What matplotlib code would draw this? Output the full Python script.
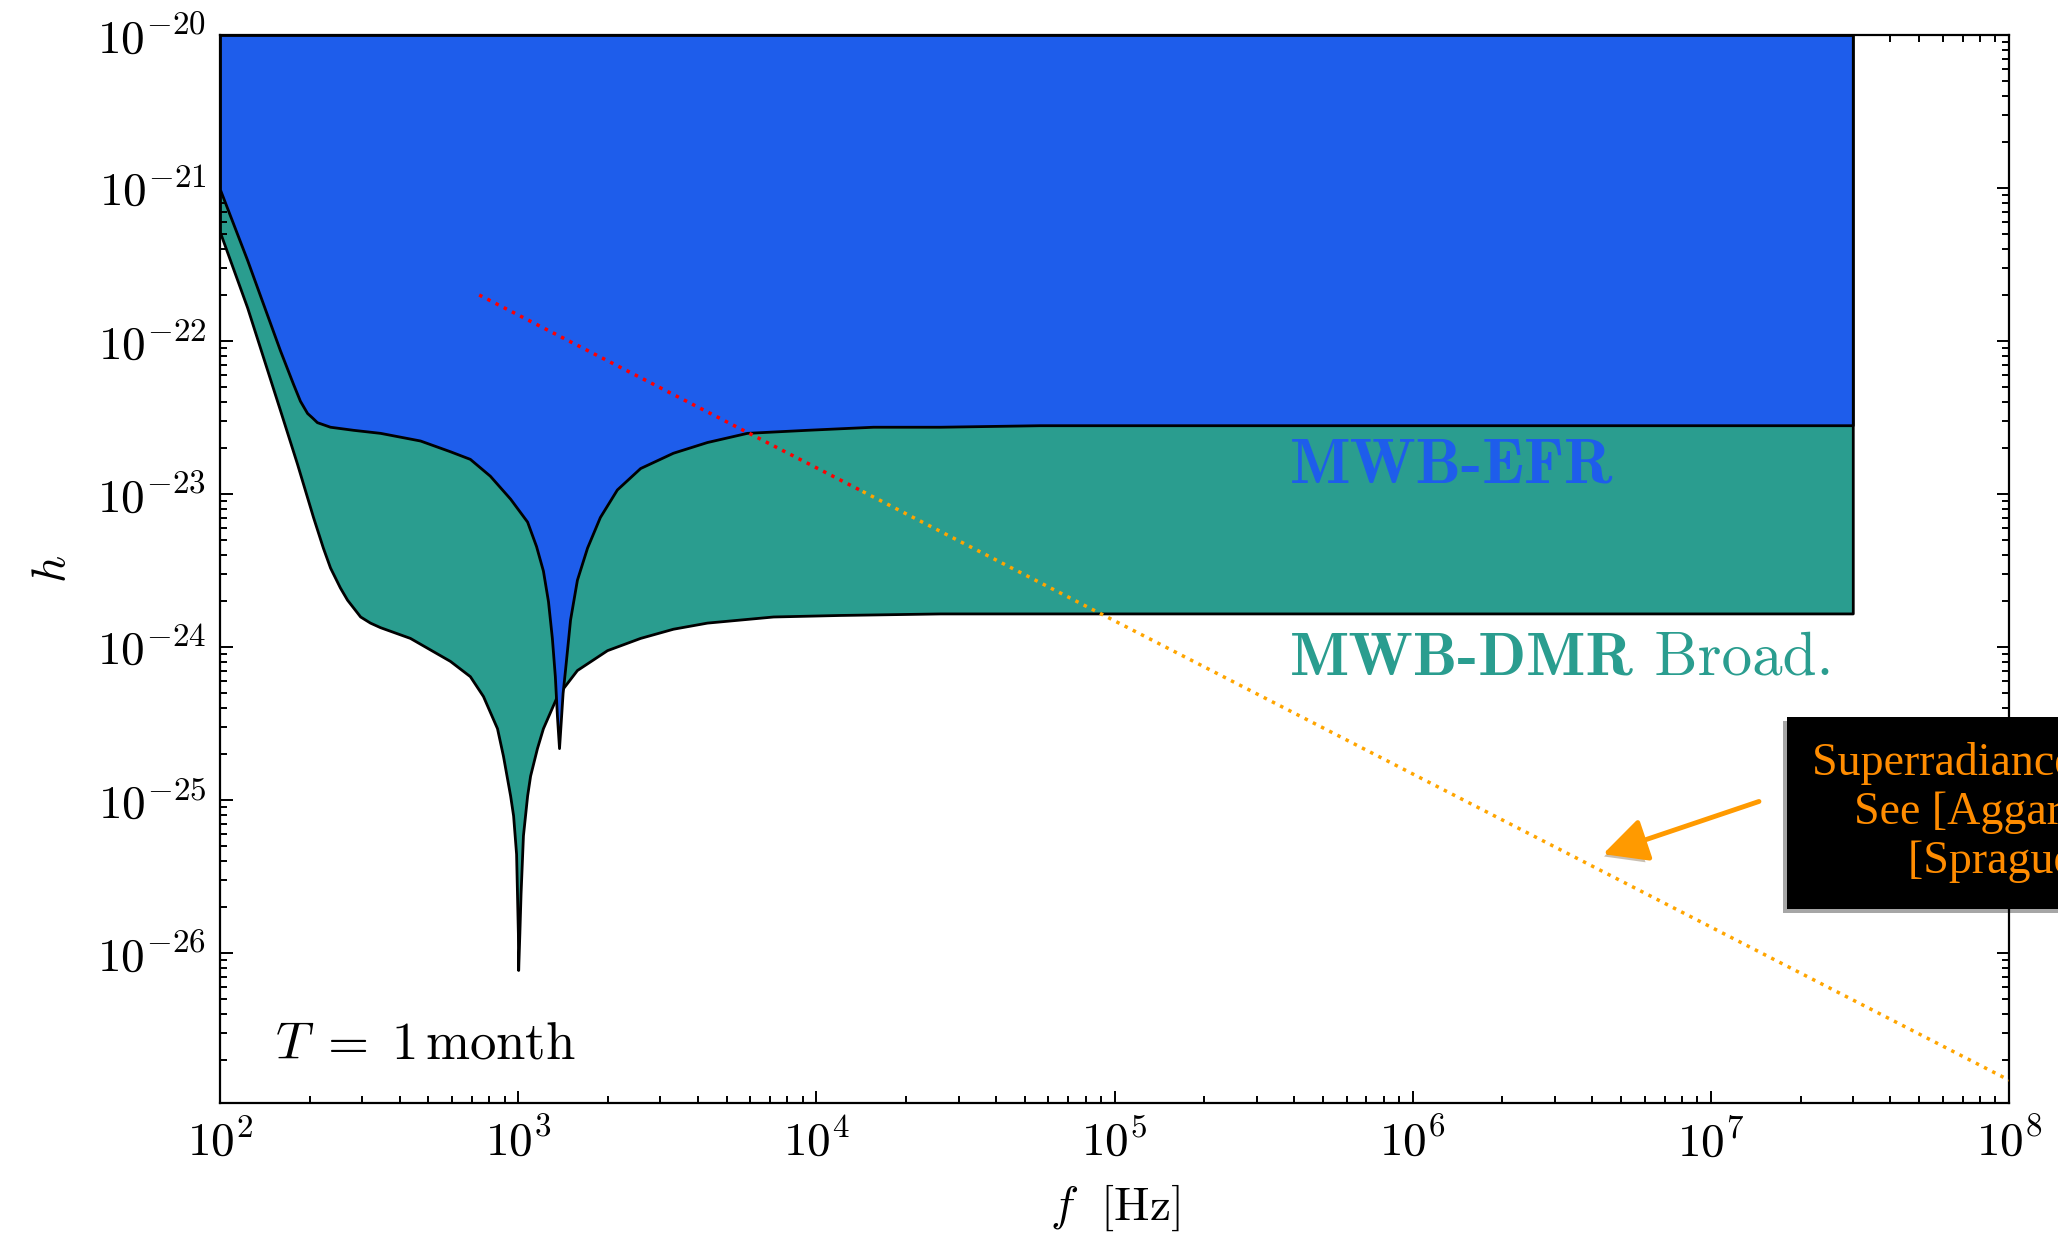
import matplotlib
matplotlib.use("Agg")
import matplotlib.pyplot as plt
import matplotlib.patheffects as pe
from matplotlib.ticker import FuncFormatter
import numpy as np

# ---- values (log10 of f [Hz] and h) ----
efr_logf = [2.000, 2.091, 2.201, 2.245, 2.268, 2.292, 2.309, 2.325, 2.369, 2.446,
            2.537, 2.671, 2.771, 2.838, 2.905, 2.973, 3.030, 3.060, 3.083, 3.100,
            3.113, 3.123, 3.130, 3.137, 3.144, 3.149, 3.157, 3.174, 3.197, 3.231,
            3.274, 3.331, 3.409, 3.519, 3.633, 3.767, 3.969, 4.190, 4.415, 4.750,
            7.476]
efr_logh = [-21.01, -21.47, -22.06, -22.28, -22.39, -22.47, -22.50, -22.53, -22.56, -22.58,
            -22.60, -22.65, -22.72, -22.77, -22.88, -23.03, -23.18, -23.34, -23.50, -23.70,
            -23.94, -24.19, -24.45, -24.66, -24.45, -24.30, -24.15, -23.82, -23.56, -23.35,
            -23.15, -22.97, -22.83, -22.73, -22.66, -22.60, -22.58, -22.56, -22.56, -22.55,
            -22.55]

dmr_logf = [2.000, 2.091, 2.201, 2.258, 2.312, 2.345, 2.369, 2.402, 2.426, 2.470,
            2.503, 2.537, 2.637, 2.771, 2.838, 2.882, 2.929, 2.949, 2.973, 2.983,
            2.993, 2.996, 2.999, 3.000, 3.004, 3.008, 3.016, 3.030, 3.040, 3.063,
            3.083, 3.130, 3.197, 3.298, 3.409, 3.519, 3.633, 3.855, 4.079, 4.415,
            4.750, 7.476]
dmr_logh = [-21.29, -21.78, -22.45, -22.80, -23.15, -23.35, -23.48, -23.61, -23.69, -23.80,
            -23.84, -23.87, -23.94, -24.09, -24.19, -24.32, -24.53, -24.71, -24.97, -25.10,
            -25.35, -25.61, -25.87, -26.11, -25.87, -25.61, -25.23, -24.97, -24.84, -24.66,
            -24.53, -24.32, -24.15, -24.02, -23.94, -23.88, -23.84, -23.80, -23.79, -23.78,
            -23.78, -23.78]

h_top = 1e-20

# superradiance line (red part inside blue region, orange beyond)
sr_red_f = [7.4e2, 1.43e4]
sr_red_h = [2.0e-22, 1.04e-23]
sr_orange_f = [1.43e4, 1.0e8]
sr_orange_h = [1.04e-23, 1.48e-27]

blue = "#1e5deb"
teal = "#2a9d8f"

plt.rcParams["mathtext.fontset"] = "cm"

fig = plt.figure(figsize=(20.58, 12.45), dpi=100)
ax = fig.add_axes([0.1069, 0.1141, 0.8693, 0.8578])

efr_f = 10 ** np.array(efr_logf)
efr_h = 10 ** np.array(efr_logh)
dmr_f = 10 ** np.array(dmr_logf)
dmr_h = 10 ** np.array(dmr_logh)

p1 = ax.fill_between(dmr_f, dmr_h, h_top, facecolor=teal, edgecolor="k", lw=2, zorder=1)
p2 = ax.fill_between(efr_f, efr_h, h_top, facecolor=blue, edgecolor="k", lw=2, zorder=2)
for p in (p1, p2):
    p.set_joinstyle("round")

ax.plot(sr_red_f, sr_red_h, ls=":", color="red", lw=2.5, zorder=3)
ax.plot(sr_orange_f, sr_orange_h, ls=":", color="orange", lw=2.5, zorder=3)

ax.set_xscale("log")
ax.set_yscale("log")
ax.set_xlim(1e2, 1e8)
ax.set_ylim(1.05e-27, 1e-20)

pow10 = FuncFormatter(lambda v, pos: r"$10^{%d}$" % round(np.log10(v)))
ax.xaxis.set_major_formatter(pow10)
ax.yaxis.set_major_formatter(pow10)

ax.tick_params(which="both", direction="in", top=True, right=True, labelsize=34, width=1.4)
ax.tick_params(which="major", length=9, pad=10)
ax.tick_params(which="minor", length=5)
ax.tick_params(axis="x", pad=12)
for s in ax.spines.values():
    s.set_linewidth(1.6)

ax.set_xlabel(r"$f\ \ [\mathrm{Hz}]$", fontsize=34, labelpad=12)
ax.set_ylabel(r"$h$", fontsize=34, labelpad=16)

ax.text(0.598, 0.581, "MWB-EFR", transform=ax.transAxes, fontfamily="cmb10",
        fontsize=46, color=blue, va="baseline", zorder=5)
t1 = ax.text(0.598, 0.401, "MWB-DMR", transform=ax.transAxes, fontfamily="cmb10",
             fontsize=45, color=teal, va="baseline", zorder=5)
ax.annotate(" Broad.", xy=(1, 0), xycoords=t1, fontfamily="cmr10", fontsize=44,
            color=teal, va="bottom", ha="left", zorder=5)

ax.text(0.031, 0.042, r"$T\;=\;1\,\mathrm{month}$", transform=ax.transAxes,
        fontsize=38, va="baseline")

# annotation box, partly outside the figure
box = fig.text(0.8805, 0.347, "Superradiance constraints\nSee [Aggarwal et al.]\n[Sprague et al.]",
               fontfamily="Liberation Serif", fontsize=33, color="#ff8c00",
               ha="left", va="center", multialignment="center", linespacing=1.2,
               bbox=dict(boxstyle="square,pad=0.55", fc="black", ec="none"), zorder=10)
box.get_bbox_patch().set_path_effects([pe.SimplePatchShadow(offset=(-3, -3), alpha=0.35), pe.Normal()])

arr = ax.annotate("", xy=(4.35e6, 4.44e-26), xytext=(1.45e7, 9.8e-26),
                  arrowprops=dict(arrowstyle="-|>,head_length=0.9,head_width=0.45",
                                  color="#ff9a00", lw=3.5, mutation_scale=30,
                                  shrinkA=0, shrinkB=0), zorder=6)
arr.arrow_patch.set_path_effects([pe.SimplePatchShadow(offset=(-3, -3), alpha=0.3), pe.Normal()])

fig.savefig("out.png", dpi=100)
